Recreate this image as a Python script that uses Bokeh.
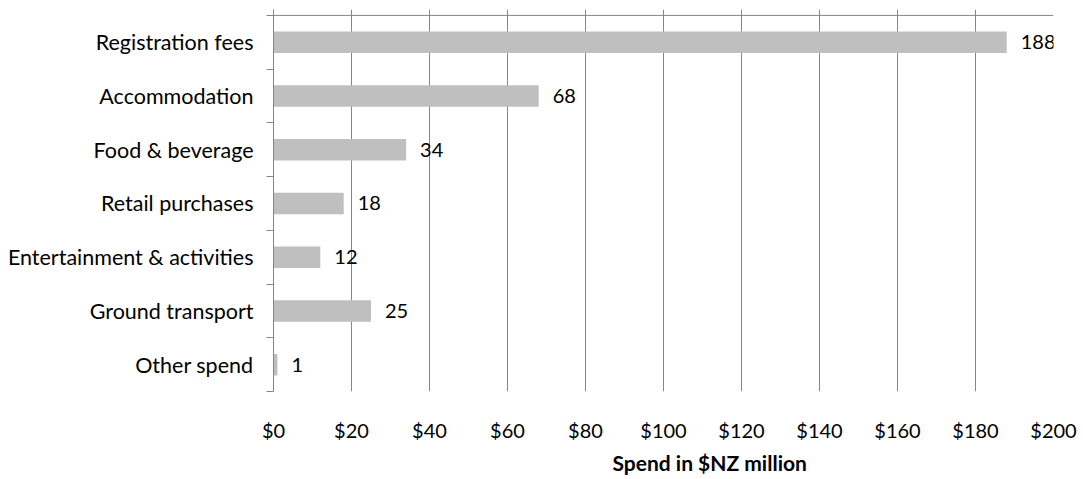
from bokeh.plotting import figure
from bokeh.models import (Range1d, FixedTicker, LinearAxis, NumeralTickFormatter,
                          ColumnDataSource, Span, Title)
from bokeh.core.properties import value
from bokeh.embed import file_html
from bokeh.resources import INLINE

categories = ["Registration fees", "Accommodation", "Food & beverage", "Retail purchases",
              "Entertainment & activities", "Ground transport", "Other spend"]
spend = [188, 68, 34, 18, 12, 25, 1]
x_ticks = [0, 20, 40, 60, 80, 100, 120, 140, 160, 180, 200]
x_title = "Spend in $NZ million"

FONT = "Lato"
GRID = "#868686"
BAR = "#BFBFBF"

n = len(categories)
centers = [i + 0.5 for i in range(n)]

p = figure(width=1083, height=479, output_backend="svg", toolbar_location=None,
           x_range=Range1d(0, 200), y_range=Range1d(n, -0.11),
           x_axis_location=None, y_axis_location=None)
p.min_border_left = 273
p.min_border_right = 30
p.min_border_top = 9
p.min_border_bottom = 88
p.outline_line_color = None
p.background_fill_color = "white"
p.border_fill_color = "white"

# grid
p.xgrid.ticker = FixedTicker(ticks=x_ticks)
p.xgrid.grid_line_color = GRID
p.xgrid.grid_line_width = 1
p.ygrid.grid_line_color = None

# left category axis
yax = LinearAxis(ticker=FixedTicker(ticks=centers, minor_ticks=list(range(n + 1))))
yax.major_label_overrides = {c: lab for c, lab in zip(centers, categories)}
yax.major_tick_line_color = None
yax.major_tick_in = 0
yax.major_tick_out = 0
yax.minor_tick_line_color = GRID
yax.minor_tick_in = 0
yax.minor_tick_out = 7
yax.axis_line_color = GRID
yax.major_label_standoff = 13
yax.major_label_text_font = FONT
yax.major_label_text_font_size = "21.5px"
yax.major_label_text_color = "black"
p.add_layout(yax, "left")

# bottom value axis (labels only)
xax = LinearAxis(ticker=FixedTicker(ticks=x_ticks), formatter=NumeralTickFormatter(format="$0"))
xax.axis_line_color = None
xax.major_tick_line_color = None
xax.minor_tick_line_color = None
xax.major_tick_in = 0
xax.major_tick_out = 0
xax.major_label_standoff = 26
xax.major_label_text_font = FONT
xax.major_label_text_font_size = "20px"
xax.major_label_text_color = "black"
p.add_layout(xax, "below")

# x axis title, slightly right of centre as in the reference
p.add_layout(Title(text=x_title, align="left", offset=339, standoff=7,
                   text_font=FONT, text_font_size="21px", text_font_style="bold",
                   text_color="black"), "below")

# top axis line
p.add_layout(Span(location=0, dimension="width", line_color=GRID, line_width=1))

src = ColumnDataSource(dict(y=centers, v=spend, lab=[str(s) for s in spend]))
p.hbar(y="y", right="v", left=0, height=0.4, source=src, fill_color=BAR, line_color=None)
p.text(x="v", y="y", text="lab", source=src, x_offset=14, text_baseline="middle",
       text_align="left", text_font=value(FONT), text_font_size="20px", text_color="black")

open("out.html", "w").write(file_html(p, INLINE))
